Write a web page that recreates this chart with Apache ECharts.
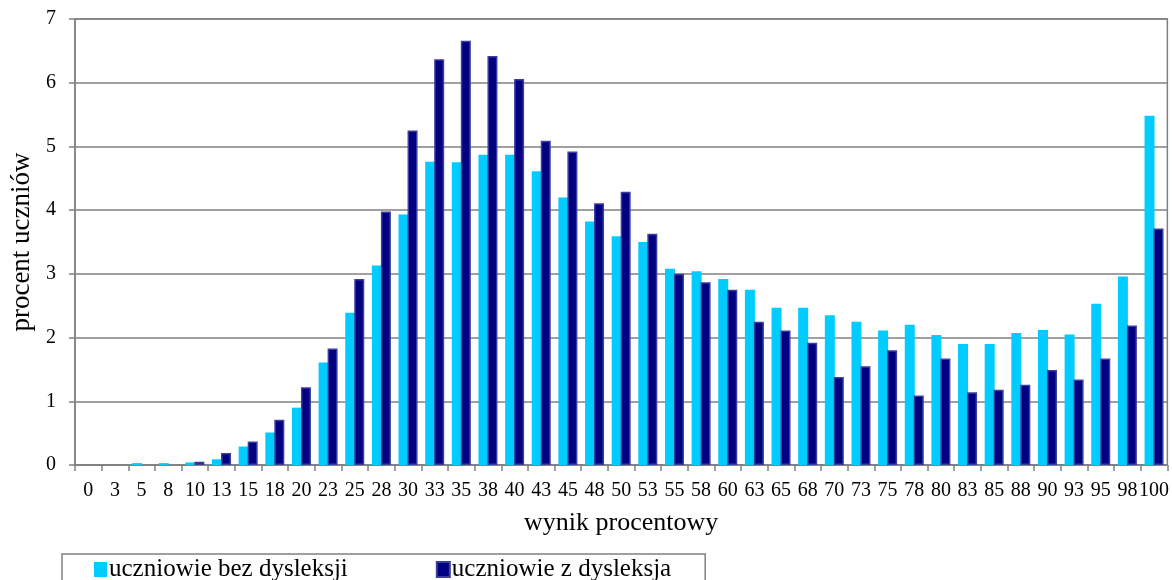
<!DOCTYPE html>
<html>
<head>
<meta charset="utf-8">
<script src="https://cdn.jsdelivr.net/npm/echarts@6/dist/echarts.min.js"></script>
<style>
html,body{margin:0;padding:0;background:#fff;}
#chart{width:1172px;height:580px;}
</style>
</head>
<body>
<div id="chart"></div>
<script>
const categories = ['0','3','5','8','10','13','15','18','20','23','25','28','30','33','35','38','40','43','45','48','50','53','55','58','60','63','65','68','70','73','75','78','80','83','85','88','90','93','95','98','100'];
const bezDysleksji = [0,0,0.03,0.03,0.04, 0.09,0.29,0.51,0.90,1.61, 2.39,3.13,3.93,4.76,4.75, 4.87,4.87,4.61,4.20,3.82, 3.59,3.50,3.08,3.04,2.92, 2.75,2.47,2.47,2.35,2.25, 2.11,2.20,2.04,1.90,1.90, 2.07,2.12,2.05,2.53,2.96, 5.48];
const zDysleksja = [0,0,0,0,0.05, 0.19,0.37,0.71,1.22,1.83, 2.92,3.98,5.25,6.37,6.66, 6.42,6.06,5.09,4.92,4.11, 4.29,3.63,3.00,2.87,2.75, 2.25,2.11,1.92,1.38,1.55, 1.80,1.09,1.67,1.14,1.18, 1.26,1.49,1.34,1.67,2.19, 3.71];
const seriesNames = ['uczniowie bez dysleksji', 'uczniowie z dysleksja'];
const xTitle = 'wynik procentowy';
const yTitle = 'procent uczniów';

// zero values draw no bar (no stray border line)
const hideZero = arr => arr.map(v => v === 0 ? '-' : v);

const font = 'Liberation Serif';
const gray = '#808080';
const chart = echarts.init(document.getElementById('chart'), null, {renderer: 'canvas'});
chart.setOption({
  animation: false,
  backgroundColor: '#fff',
  grid: {left: 72, right: 4, top: 19, bottom: 115, show: true, borderColor: gray, borderWidth: 1.5, backgroundColor: 'transparent'},
  legend: {
    left: 62, top: 554,
    padding: [3, 34, 10, 32],
    itemGap: 88, itemWidth: 13, itemHeight: 15,
    icon: 'rect',
    borderColor: gray, borderWidth: 1.5,
    textStyle: {fontFamily: font, fontSize: 25, color: '#000', padding: [0,0,0,-3]},
    data: seriesNames
  },
  xAxis: {
    type: 'category',
    data: categories,
    name: xTitle,
    nameLocation: 'middle',
    nameGap: 45,
    nameTextStyle: {fontFamily: font, fontSize: 26, color: '#000'},
    axisLine: {lineStyle: {color: gray, width: 1.5}},
    axisTick: {show: true, length: 6, lineStyle: {color: gray, width: 1.5}},
    axisLabel: {fontFamily: font, fontSize: 20, color: '#000', margin: 16, interval: 0},
    splitLine: {show: false}
  },
  yAxis: {
    type: 'value',
    min: 0, max: 7, interval: 1,
    name: yTitle,
    nameLocation: 'middle',
    nameGap: 40,
    nameTextStyle: {fontFamily: font, fontSize: 27, color: '#000'},
    axisLine: {show: true, lineStyle: {color: gray, width: 1.5}},
    axisTick: {show: true, length: 6, lineStyle: {color: gray, width: 1.5}},
    axisLabel: {fontFamily: font, fontSize: 20, color: '#000', margin: 19},
    splitLine: {lineStyle: {color: gray, width: 1.5}}
  },
  series: [
    {
      name: seriesNames[0], type: 'bar', data: hideZero(bezDysleksji),
      barWidth: 10, barGap: '-10%',
      itemStyle: {color: '#00CCFF'}
    },
    {
      name: seriesNames[1], type: 'bar', data: hideZero(zDysleksja),
      barWidth: 10, barGap: '-10%',
      itemStyle: {color: '#000080', borderColor: '#3d3d9e', borderWidth: 1.5}
    }
  ]
});
</script>
</body>
</html>
